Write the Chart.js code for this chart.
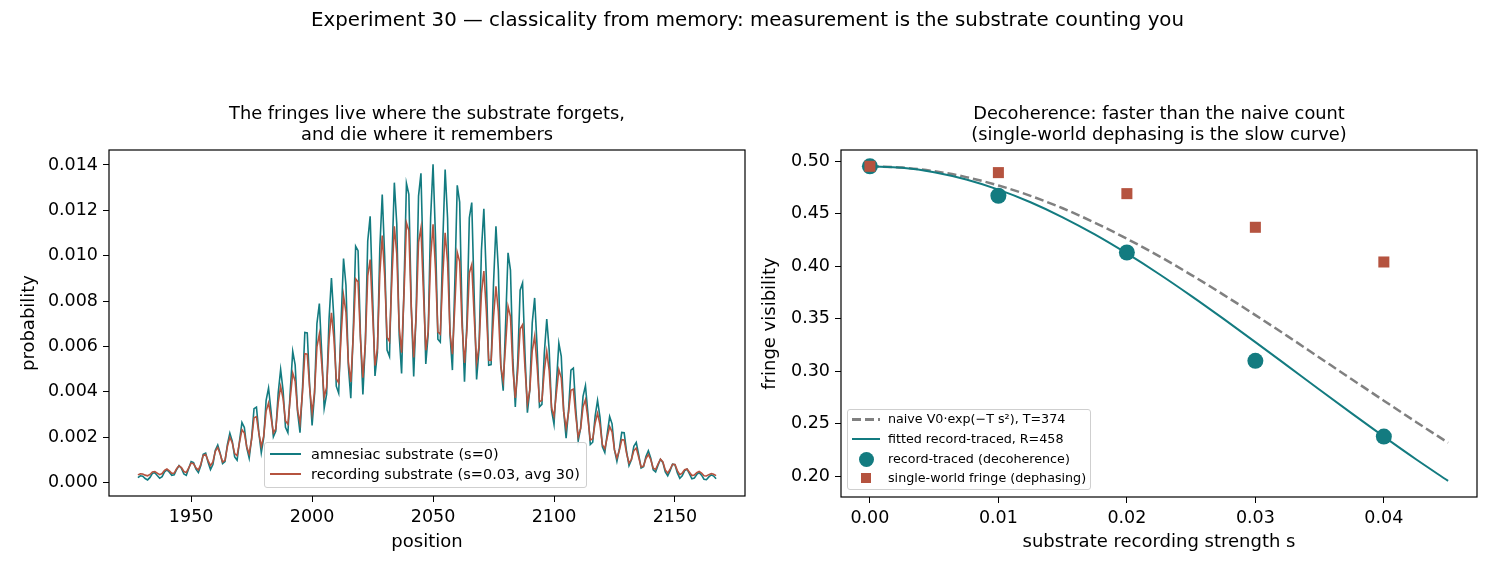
<!DOCTYPE html>
<html><head><meta charset="utf-8">
<script src="https://cdn.jsdelivr.net/npm/chart.js@4.4.0/dist/chart.umd.min.js"></script>
<style>
html,body{margin:0;padding:0;background:#fff;}
#fig{position:relative;width:1495px;height:572px;overflow:hidden;font-family:'DejaVu Sans',sans-serif;color:#000;background:#fff;}
canvas{position:absolute;top:0;}
.t{position:absolute;white-space:nowrap;text-align:center;transform:translateX(-50%);}
.leg{position:absolute;border:1px solid #cfcfcf;border-radius:3px;background:rgba(255,255,255,0.85);box-sizing:border-box;}
.lt{position:absolute;white-space:nowrap;line-height:1;transform:translateY(-50%);}
.h{position:absolute;}
</style></head><body>
<div id="fig">
<canvas id="c1" width="760" height="572" style="left:0px"></canvas>
<canvas id="c2" width="735" height="572" style="left:760px"></canvas>
<div class="t" style="left:747.5px;top:8px;font-size:19.8px;line-height:24px">Experiment 30 — classicality from memory: measurement is the substrate counting you</div>
<div class="t" style="left:427px;top:102px;font-size:17.8px;line-height:21px">The fringes live where the substrate forgets,<br>and die where it remembers</div>
<div class="t" style="left:1159px;top:102px;font-size:17.8px;line-height:21px">Decoherence: faster than the naive count<br>(single-world dephasing is the slow curve)</div>

<div class="leg" style="left:264px;top:442px;width:323px;height:46px"></div>
<div class="h" style="left:270px;top:453px;width:31px;height:1.6px;background:#137b80"></div>
<div class="lt" style="left:311px;top:454px;font-size:14.5px">amnesiac substrate (s=0)</div>
<div class="h" style="left:270px;top:473px;width:31px;height:1.6px;background:#b5533f"></div>
<div class="lt" style="left:311px;top:474px;font-size:14.5px">recording substrate (s=0.03, avg 30)</div>

<div class="leg" style="left:847px;top:409px;width:244px;height:81px"></div>
<div class="h" style="left:852px;top:418px;width:28px;height:2.5px;background:repeating-linear-gradient(to right,#808080 0 9px,transparent 9px 13px)"></div>
<div class="lt" style="left:888px;top:419px;font-size:12.7px">naive V0·exp(−T s²), T=374</div>
<div class="h" style="left:852px;top:438px;width:28px;height:2px;background:#137b80"></div>
<div class="lt" style="left:888px;top:439px;font-size:12.7px">fitted record-traced, R=458</div>
<div class="h" style="left:858.5px;top:451.5px;width:15px;height:15px;border-radius:50%;background:#137b80"></div>
<div class="lt" style="left:888px;top:459px;font-size:12.7px">record-traced (decoherence)</div>
<div class="h" style="left:861px;top:472.5px;width:10px;height:10px;background:#b5533f"></div>
<div class="lt" style="left:888px;top:477.5px;font-size:12.7px">single-world fringe (dephasing)</div>
</div>
<script>
// ---------- data: left panel ----------
const positions = [
1928,1929,1930,1931,1932,1933,1934,1935,1936,1937,
1938,1939,1940,1941,1942,1943,1944,1945,1946,1947,
1948,1949,1950,1951,1952,1953,1954,1955,1956,1957,
1958,1959,1960,1961,1962,1963,1964,1965,1966,1967,
1968,1969,1970,1971,1972,1973,1974,1975,1976,1977,
1978,1979,1980,1981,1982,1983,1984,1985,1986,1987,
1988,1989,1990,1991,1992,1993,1994,1995,1996,1997,
1998,1999,2000,2001,2002,2003,2004,2005,2006,2007,
2008,2009,2010,2011,2012,2013,2014,2015,2016,2017,
2018,2019,2020,2021,2022,2023,2024,2025,2026,2027,
2028,2029,2030,2031,2032,2033,2034,2035,2036,2037,
2038,2039,2040,2041,2042,2043,2044,2045,2046,2047,
2048,2049,2050,2051,2052,2053,2054,2055,2056,2057,
2058,2059,2060,2061,2062,2063,2064,2065,2066,2067,
2068,2069,2070,2071,2072,2073,2074,2075,2076,2077,
2078,2079,2080,2081,2082,2083,2084,2085,2086,2087,
2088,2089,2090,2091,2092,2093,2094,2095,2096,2097,
2098,2099,2100,2101,2102,2103,2104,2105,2106,2107,
2108,2109,2110,2111,2112,2113,2114,2115,2116,2117,
2118,2119,2120,2121,2122,2123,2124,2125,2126,2127,
2128,2129,2130,2131,2132,2133,2134,2135,2136,2137,
2138,2139,2140,2141,2142,2143,2144,2145,2146,2147,
2148,2149,2150,2151,2152,2153,2154,2155,2156,2157,
2158,2159,2160,2161,2162,2163,2164,2165,2166,2167];

const amnesiac = [
.00022,.00030,.00028,.00018,.00012,.00023,.00041,.00044,.00031,.00019,
.00026,.00047,.00056,.00046,.00032,.00034,.00058,.00075,.00063,.00038,
.00032,.00062,.00093,.00088,.00059,.00044,.00075,.00125,.00130,.00090,
.00057,.00080,.00143,.00166,.00130,.00084,.00093,.00169,.00218,.00183,
.00113,.00099,.00183,.00265,.00243,.00153,.00108,.00196,.00326,.00333,
.00220,.00132,.00198,.00363,.00417,.00318,.00202,.00227,.00396,.00498,
.00407,.00244,.00220,.00407,.00578,.00519,.00312,.00220,.00406,.00662,
.00660,.00425,.00252,.00390,.00701,.00789,.00568,.00328,.00390,.00719,
.00902,.00723,.00425,.00394,.00713,.00988,.00870,.00513,.00372,.00665,
.01042,.01022,.00644,.00388,.00611,.01065,.01174,.00825,.00470,.00573,
.01035,.01270,.00999,.00584,.00556,.00980,.01322,.01140,.00652,.00481,
.00862,.01319,.01270,.00778,.00468,.00745,.01263,.01363,.00933,.00523,
.00657,.01167,.01403,.01086,.00632,.00619,.01053,.01380,.01166,.00655,
.00496,.00880,.01310,.01236,.00735,.00445,.00709,.01167,.01234,.00822,
.00455,.00588,.01024,.01207,.00910,.00517,.00520,.00879,.01130,.00936,
.00518,.00405,.00702,.01013,.00937,.00543,.00333,.00532,.00848,.00880,
.00568,.00308,.00410,.00704,.00814,.00600,.00334,.00345,.00572,.00721,
.00585,.00318,.00257,.00438,.00615,.00557,.00315,.00196,.00317,.00496,
.00505,.00325,.00184,.00240,.00380,.00427,.00307,.00168,.00178,.00293,
.00362,.00289,.00158,.00133,.00215,.00291,.00259,.00144,.00094,.00147,
.00221,.00220,.00136,.00075,.00101,.00160,.00177,.00123,.00064,.00070,
.00115,.00140,.00108,.00056,.00047,.00077,.00103,.00089,.00047,.00030,
.00053,.00081,.00079,.00043,.00019,.00030,.00053,.00059,.00038,.00017,
.00020,.00036,.00044,.00033,.00015,.00013,.00025,.00034,.00029,.00017];

const recording = [
.00034,.00039,.00038,.00033,.00030,.00036,.00047,.00049,.00042,.00035,
.00040,.00054,.00060,.00052,.00041,.00042,.00061,.00074,.00066,.00049,
.00045,.00065,.00086,.00083,.00065,.00056,.00081,.00120,.00124,.00097,
.00075,.00091,.00138,.00155,.00126,.00091,.00098,.00160,.00200,.00176,
.00128,.00119,.00177,.00233,.00218,.00157,.00127,.00191,.00286,.00291,
.00217,.00160,.00205,.00315,.00351,.00290,.00219,.00237,.00354,.00424,
.00370,.00272,.00258,.00375,.00483,.00447,.00319,.00263,.00392,.00568,
.00566,.00417,.00307,.00397,.00598,.00655,.00522,.00378,.00419,.00630,
.00748,.00639,.00458,.00440,.00647,.00824,.00751,.00530,.00444,.00642,
.00898,.00885,.00633,.00462,.00610,.00911,.00983,.00752,.00516,.00591,
.00921,.01089,.00912,.00640,.00623,.00904,.01130,.01009,.00686,.00573,
.00833,.01145,.01111,.00768,.00552,.00728,.01059,.01123,.00847,.00583,
.00667,.00989,.01138,.00943,.00664,.00654,.00909,.01101,.00971,.00662,
.00566,.00778,.01015,.00974,.00690,.00527,.00672,.00924,.00961,.00733,
.00529,.00600,.00834,.00932,.00763,.00540,.00539,.00731,.00865,.00754,
.00514,.00449,.00609,.00777,.00732,.00498,.00373,.00491,.00677,.00696,
.00506,.00348,.00408,.00581,.00645,.00516,.00357,.00362,.00493,.00578,
.00495,.00330,.00292,.00396,.00498,.00462,.00313,.00240,.00308,.00407,
.00412,.00294,.00202,.00239,.00334,.00365,.00283,.00188,.00193,.00263,
.00306,.00256,.00167,.00149,.00200,.00247,.00224,.00144,.00108,.00142,
.00189,.00188,.00129,.00086,.00102,.00141,.00152,.00112,.00069,.00073,
.00106,.00124,.00101,.00064,.00058,.00082,.00103,.00091,.00056,.00042,
.00059,.00081,.00080,.00053,.00035,.00042,.00057,.00060,.00046,.00031,
.00033,.00044,.00049,.00042,.00030,.00029,.00035,.00040,.00037,.00031];

const leftXTicks = [1950, 2000, 2050, 2100, 2150];
const leftYTicks = [0.000, 0.002, 0.004, 0.006, 0.008, 0.010, 0.012, 0.014];

// ---------- data: right panel ----------
const strengths    = [0.00, 0.01, 0.02, 0.03, 0.04];
const recordTraced = [0.495, 0.467, 0.413, 0.310, 0.238];
const singleWorld  = [0.495, 0.489, 0.469, 0.437, 0.404];
const curveS       = [0,0.0025,0.005,0.0075,0.01,0.0125,0.015,0.0175,0.02,0.0225,0.025,0.0275,0.03,0.0325,0.035,0.0375,0.04,0.0425,0.045];
const naiveCurve   = [0.4950,0.4938,0.4904,0.4847,0.4768,0.4669,0.4551,0.4414,0.4261,0.4096,0.3918,0.3730,0.3535,0.3335,0.3130,0.2925,0.2721,0.2519,0.2321];
const fittedCurve  = [0.4950,0.4936,0.4894,0.4824,0.4728,0.4608,0.4465,0.4302,0.4121,0.3926,0.3718,0.3501,0.3278,0.3052,0.2825,0.2600,0.2379,0.2164,0.1958];
const rightXTicks = [0.00, 0.01, 0.02, 0.03, 0.04];
const rightYTicks = [0.20, 0.25, 0.30, 0.35, 0.40, 0.45, 0.50];

// ---------- styling ----------
const TEAL = '#137b80', RED = '#b5533f', GRAY = '#808080';
Chart.defaults.font.family = "'DejaVu Sans', sans-serif";
Chart.defaults.color = '#000';

const frame = {
  id: 'frame',
  afterDraw(chart) {
    const {ctx, chartArea: a} = chart;
    ctx.save();
    ctx.strokeStyle = '#000';
    ctx.lineWidth = 1.2;
    ctx.strokeRect(a.left, a.top, a.right - a.left, a.bottom - a.top);
    ctx.restore();
  }
};

function axis(opts) {
  return {
    type: 'linear',
    min: opts.min, max: opts.max,
    afterBuildTicks: s => { s.ticks = opts.ticks.map(v => ({value: v})); },
    afterFit: s => { if (opts.width !== undefined) s.width = opts.width; if (opts.height !== undefined) s.height = opts.height; },
    grid: {display: true, drawOnChartArea: false, drawTicks: true, tickLength: 6, color: '#000', lineWidth: 1},
    border: {display: false},
    ticks: {padding: 5, font: {size: 17.5}, color: '#000', maxRotation: 0, autoSkip: false, callback: opts.fmt},
    title: {display: true, text: opts.title, font: {size: 18}, color: '#000', padding: opts.tpad}
  };
}

const common = {
  responsive: false, animation: false, devicePixelRatio: 1,
  plugins: {legend: {display: false}, tooltip: {enabled: false}, title: {display: false}},
  events: []
};

new Chart(document.getElementById('c1'), {
  type: 'line',
  data: {
    datasets: [
      {label: 'recording substrate (s=0.03, avg 30)', data: positions.map((p, i) => ({x: p, y: recording[i]})),
       borderColor: RED, borderWidth: 1.6, pointRadius: 0, tension: 0, order: 0},
      {label: 'amnesiac substrate (s=0)', data: positions.map((p, i) => ({x: p, y: amnesiac[i]})),
       borderColor: TEAL, borderWidth: 1.6, pointRadius: 0, tension: 0, order: 1}
    ]
  },
  options: Object.assign({}, common, {
    layout: {padding: {top: 150, right: 15, bottom: 0, left: 0}},
    scales: {
      x: axis({min: 1916.05, max: 2178.95, ticks: leftXTicks, height: 76, fmt: v => String(v),
               title: 'position', tpad: {top: 0, bottom: 19}}),
      y: axis({min: -0.00059, max: 0.01466, ticks: leftYTicks, width: 109, fmt: v => v.toFixed(3),
               title: 'probability', tpad: {top: 19, bottom: 0}})
    }
  }),
  plugins: [frame]
});

new Chart(document.getElementById('c2'), {
  type: 'scatter',
  data: {
    datasets: [
      {label: 'single-world fringe (dephasing)', data: strengths.map((s, i) => ({x: s, y: singleWorld[i]})),
       backgroundColor: RED, borderColor: RED, borderWidth: 0, pointStyle: 'rect', pointRadius: 7.8, showLine: false, order: 0},
      {label: 'record-traced (decoherence)', data: strengths.map((s, i) => ({x: s, y: recordTraced[i]})),
       backgroundColor: TEAL, borderColor: TEAL, borderWidth: 0, pointStyle: 'circle', pointRadius: 8, showLine: false, order: 1},
      {label: 'fitted record-traced, R=458', data: curveS.map((s, i) => ({x: s, y: fittedCurve[i]})),
       borderColor: TEAL, borderWidth: 2, pointRadius: 0, showLine: true, tension: 0, cubicInterpolationMode: 'monotone', order: 2},
      {label: 'naive V0·exp(−T s²), T=374', data: curveS.map((s, i) => ({x: s, y: naiveCurve[i]})),
       borderColor: GRAY, borderWidth: 2.5, borderDash: [9, 4], pointRadius: 0, showLine: true, tension: 0, cubicInterpolationMode: 'monotone', order: 3}
    ]
  },
  options: Object.assign({}, common, {
    layout: {padding: {top: 150, right: 18, bottom: 0, left: 0}},
    scales: {
      x: axis({min: -0.00225, max: 0.04725, ticks: rightXTicks, height: 75, fmt: v => v.toFixed(2),
               title: 'substrate recording strength s', tpad: {top: 0, bottom: 19}}),
      y: axis({min: 0.1805, max: 0.5105, ticks: rightYTicks, width: 81, fmt: v => v.toFixed(2),
               title: 'fringe visibility', tpad: {top: 0, bottom: 0}})
    }
  }),
  plugins: [frame]
});
</script>
</body></html>
